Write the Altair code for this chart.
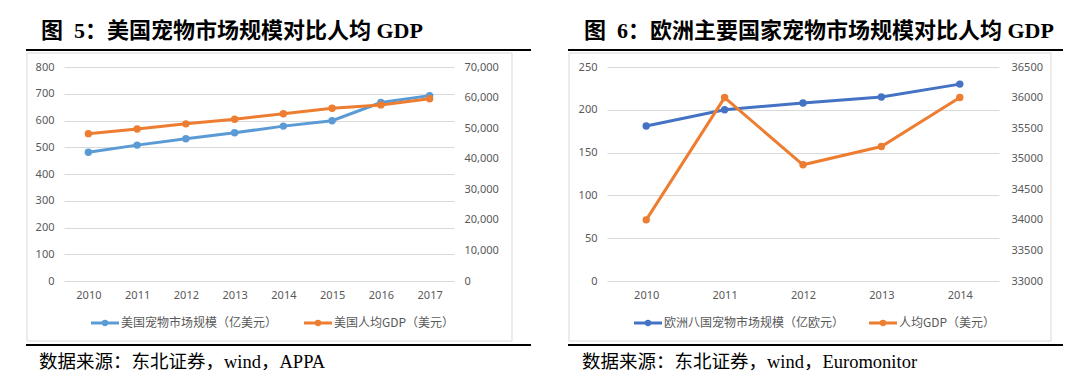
import altair as alt
import pandas as pd

# ---------------- data ----------------
us_years = ["2010", "2011", "2012", "2013", "2014", "2015", "2016", "2017"]
us_market = [481, 508, 532, 554, 579, 599, 667, 693]          # 亿美元
us_gdp = [48200, 49700, 51400, 52900, 54700, 56500, 57600, 59600]  # 美元

eu_years = ["2010", "2011", "2012", "2013", "2014"]
eu_market = [181, 200, 208, 215, 230]                           # 亿欧元
eu_gdp = [34000, 36000, 34900, 35200, 36000]                    # 美元

left_title = "图\u20025：美国宠物市场规模对比人均 GDP"
right_title = "图\u20026：欧洲主要国家宠物市场规模对比人均 GDP"
left_series = ["美国宠物市场规模（亿美元）", "美国人均GDP（美元）"]
right_series = ["欧洲八国宠物市场规模（亿欧元）", "人均GDP（美元）"]
left_source = "数据来源：东北证券，wind，APPA"
right_source = "数据来源：东北证券，wind，Euromonitor"

AX = "#595959"
GRID = "#D9D9D9"
ORANGE = "#ED7D31"
CJK = "Liberation Serif, Noto Sans CJK SC"
LEG = "Noto Sans CJK SC"


def one():
    return alt.Data(values=[{"k": 1}])


def panel(years, s1, s2, names, title, source, colors,
          w, h, d1, t1, d2, t2, fmt2, rpad, geo):
    df = pd.DataFrame({"year": years, "s1": s1, "s2": s2})
    c1, c2 = colors
    xenc = alt.X("year:O", title=None,
                 axis=alt.Axis(labelAngle=0, labelPadding=8))
    l1 = alt.Chart(df).mark_line(
        color=c1, strokeWidth=3,
        point=alt.OverlayMarkDef(filled=True, size=55, color=c1, opacity=1)
    ).encode(
        x=xenc,
        y=alt.Y("s1:Q", title=None,
                scale=alt.Scale(domain=d1, nice=False, zero=False),
                axis=alt.Axis(values=t1, grid=True, labelPadding=10)),
    )
    l2 = alt.Chart(df).mark_line(
        color=c2, strokeWidth=3,
        point=alt.OverlayMarkDef(filled=True, size=55, color=c2, opacity=1)
    ).encode(
        x=xenc,
        y=alt.Y("s2:Q", title=None,
                scale=alt.Scale(domain=d2, nice=False, zero=False),
                axis=alt.Axis(values=t2, grid=False, orient="right",
                              format=fmt2, labelPadding=rpad)),
    )
    fx0, fx1, rx1, lg2 = geo
    frame = alt.Chart(one()).mark_rect(
        fillOpacity=0, stroke=GRID, strokeWidth=1
    ).encode(x=alt.value(fx0), x2=alt.value(fx1),
             y=alt.value(-14), y2=alt.value(274))
    top_rule = alt.Chart(one()).mark_rule(color="black", strokeWidth=2).encode(
        x=alt.value(fx0 - 1), x2=alt.value(rx1), y=alt.value(-17))
    bot_rule = alt.Chart(one()).mark_rule(color="black", strokeWidth=2).encode(
        x=alt.value(fx0 - 1), x2=alt.value(rx1), y=alt.value(278))
    ttl = alt.Chart(one()).mark_text(
        align="left", baseline="middle", font=CJK, fontSize=22,
        fontWeight="bold", color="black"
    ).encode(x=alt.value(-23), y=alt.value(-36), text=alt.value(title))
    src = alt.Chart(one()).mark_text(
        align="left", baseline="middle", font=CJK, fontSize=18.5,
        color="black"
    ).encode(x=alt.value(-25), y=alt.value(295), text=alt.value(source))

    legs = []
    for x0, name, c in [(27, names[0], c1), (lg2, names[1], c2)]:
        legs.append(alt.Chart(one()).mark_rule(color=c, strokeWidth=3).encode(
            x=alt.value(x0), x2=alt.value(x0 + 28), y=alt.value(256)))
        legs.append(alt.Chart(one()).mark_point(
            filled=True, size=40, color=c, opacity=1
        ).encode(x=alt.value(x0 + 14), y=alt.value(256)))
        legs.append(alt.Chart(one()).mark_text(
            align="left", baseline="middle", font=LEG, fontSize=12, color=AX
        ).encode(x=alt.value(x0 + 30), y=alt.value(256), text=alt.value(name)))

    return alt.layer(frame, l1, l2, top_rule, bot_rule, ttl, src, *legs).resolve_scale(
        y="independent"
    ).properties(width=w, height=h)


left = panel(us_years, us_market, us_gdp, left_series, left_title, left_source,
             ["#5B9BD5", ORANGE], 390, 214,
             [0, 800], list(range(0, 801, 100)),
             [0, 70000], list(range(0, 70001, 10000)), ",.0f", 10,
             (-37, 448, 467, 240))
right = panel(eu_years, eu_market, eu_gdp, right_series, right_title, right_source,
              ["#4472C4", ORANGE], 392, 214,
              [0, 250], list(range(0, 251, 50)),
              [33000, 36500], list(range(33000, 36501, 500)), "d", 12,
              (-38, 444, 456, 262))

chart = alt.hconcat(left, right, spacing=35).properties(
    padding={"left": 17, "top": 12, "right": 0, "bottom": 0},
    background="white",
).configure_view(strokeWidth=0).configure_axis(
    labelColor=AX, labelFont="Noto Sans", labelFontSize=11,
    domain=False, ticks=False, gridColor=GRID, gridWidth=1,
)

chart.save("out.html", embed_options={"renderer": "svg", "actions": False})
